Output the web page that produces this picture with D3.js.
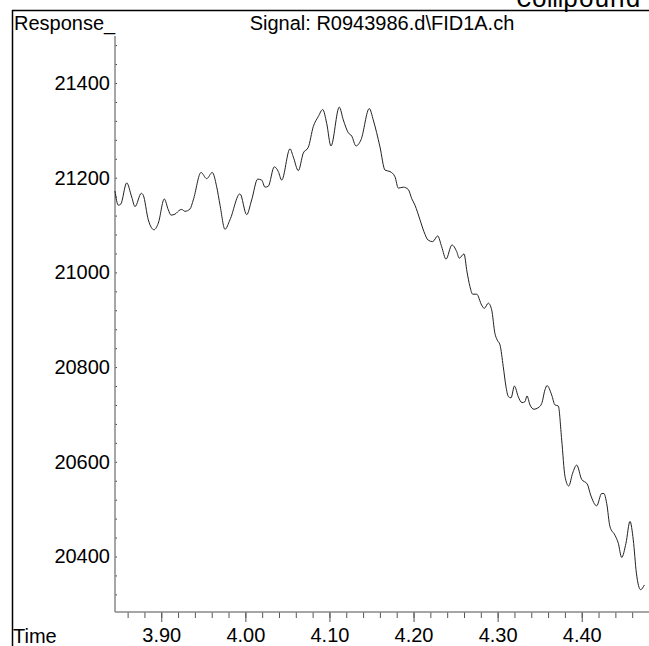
<!DOCTYPE html>
<html>
<head>
<meta charset="utf-8">
<script src="https://cdn.jsdelivr.net/npm/d3@7"></script>
<style>
  html, body { margin: 0; padding: 0; background: #fff; }
  svg { display: block; }
  text { font-family: "Liberation Sans", Arial, sans-serif; }
</style>
</head>
<body>
<svg id="chart" width="649" height="646"></svg>
<script>
// ---- data ----
const title = "Signal: R0943986.d\\FID1A.ch";
const yLabel = "Response_";
const xLabel = "Time";
const heading = "Compound";
const xTickValues = [3.90, 4.00, 4.10, 4.20, 4.30, 4.40];
const yTickValues = [20400, 20600, 20800, 21000, 21200, 21400];

const times = [
  3.8450, 3.8489, 3.8518, 3.8589, 3.8649, 3.8688, 3.8763, 3.8786, 3.8846, 3.8914,
  3.8965, 3.9036, 3.9084, 3.9116, 3.9163, 3.9223, 3.9243, 3.9282, 3.9342, 3.9381,
  3.9473, 3.9540, 3.9607, 3.9659, 3.9699, 3.9758, 3.9817, 3.9936, 4.0016, 4.0075,
  4.0147, 4.0194, 4.0234, 4.0273, 4.0344, 4.0392, 4.0432, 4.0531, 4.0570, 4.0630,
  4.0689, 4.0748, 4.0808, 4.0867, 4.0920, 4.0967, 4.1018, 4.1117, 4.1165, 4.1224,
  4.1265, 4.1316, 4.1375, 4.1474, 4.1521, 4.1601, 4.1661, 4.1720, 4.1779, 4.1819,
  4.1878, 4.1938, 4.1978, 4.2017, 4.2077, 4.2124, 4.2175, 4.2228, 4.2287, 4.2335,
  4.2386, 4.2457, 4.2513, 4.2544, 4.2600, 4.2636, 4.2671, 4.2703, 4.2751, 4.2810,
  4.2841, 4.2889, 4.2929, 4.2968, 4.2996, 4.3028, 4.3067, 4.3099, 4.3127, 4.3159,
  4.3200, 4.3246, 4.3290, 4.3325, 4.3349, 4.3385, 4.3432, 4.3480, 4.3524, 4.3563,
  4.3587, 4.3643, 4.3682, 4.3721, 4.3762, 4.3801, 4.3845, 4.3892, 4.3940, 4.3999,
  4.4066, 4.4106, 4.4178, 4.4237, 4.4264, 4.4297, 4.4336, 4.4395, 4.4435, 4.4475,
  4.4526, 4.4574, 4.4613, 4.4650, 4.4700, 4.4745
];
const responses = [
  21172, 21142, 21144, 21189, 21159, 21139, 21167, 21163, 21111, 21090,
  21104, 21155, 21132, 21121, 21123, 21132, 21133, 21129, 21134, 21153,
  21211, 21198, 21211, 21181, 21142, 21091, 21111, 21166, 21122, 21153,
  21197, 21195, 21180, 21182, 21223, 21213, 21195, 21261, 21244, 21215,
  21252, 21264, 21308, 21329, 21344, 21315, 21267, 21349, 21322, 21295,
  21288, 21267, 21280, 21346, 21322, 21265, 21216, 21213, 21202, 21178,
  21180, 21175, 21156, 21142, 21111, 21086, 21068, 21065, 21077, 21054,
  21028, 21058, 21044, 21030, 21039, 21001, 20970, 20954, 20954, 20931,
  20924, 20935, 20921, 20871, 20857, 20847, 20801, 20759, 20738, 20735,
  20760, 20737, 20725, 20727, 20739, 20720, 20711, 20714, 20723, 20752,
  20761, 20741, 20720, 20718, 20646, 20569, 20549, 20576, 20593, 20563,
  20553, 20530, 20507, 20533, 20533, 20512, 20463, 20445, 20428, 20398,
  20428, 20474, 20435, 20365, 20330, 20340
];

// ---- layout ----
const svg = d3.select("#chart");
const axisX = 115, axisBottom = 612, axisTop = 36, rightEdge = 649;

const x = d3.scaleLinear().domain([3.845, 4.48]).range([axisX, rightEdge]);
const y = d3.scaleLinear().domain([21400, 20400]).range([83, 556.5]);

// frame
svg.append("line").attr("x1", 12).attr("x2", 649).attr("y1", 10.5).attr("y2", 10.5)
  .attr("stroke", "#000").attr("stroke-width", 1.5);
svg.append("line").attr("x1", 12.5).attr("x2", 12.5).attr("y1", 10).attr("y2", 646)
  .attr("stroke", "#000").attr("stroke-width", 1.5);

// heading at top right, cut by the top edge as in the reference
svg.append("text").attr("x", 516).attr("y", 7)
  .style("font-family", "'Liberation Mono', 'Courier New', monospace")
  .style("font-size", "26px").attr("fill", "#000").text(heading);

// header texts
svg.append("text").attr("x", 14).attr("y", 30).style("font-size", "20px").text(yLabel);
svg.append("text").attr("x", 382).attr("y", 30).attr("text-anchor", "middle")
  .style("font-size", "20px").text(title);

// x axis
const xMinor = d3.range(3.86, 4.481, 0.02).filter(v => x(v) <= rightEdge);
const xAxis = d3.axisBottom(x).tickValues(xMinor).tickSize(6).tickFormat("");
const gx = svg.append("g").attr("transform", `translate(0,${axisBottom})`).call(xAxis);
gx.select(".domain").remove();
gx.selectAll(".tick line").attr("stroke", "#555").attr("stroke-width", 1);
const xMajor = d3.axisBottom(x).tickValues(xTickValues).tickSize(10)
  .tickFormat(d3.format(".2f")).tickPadding(6);
const gxm = svg.append("g").attr("transform", `translate(0,${axisBottom})`).call(xMajor);
gxm.select(".domain").remove();
gxm.selectAll(".tick line").attr("stroke", "#555").attr("stroke-width", 1);
gxm.selectAll(".tick text").style("font-size", "20px").attr("fill", "#000")
  .style("font-family", "'Liberation Sans', Arial, sans-serif");
svg.append("line").attr("x1", axisX).attr("x2", rightEdge)
  .attr("y1", axisBottom).attr("y2", axisBottom)
  .attr("stroke", "#888").attr("stroke-width", 1.5);
svg.append("text").attr("x", 13).attr("y", 643).style("font-size", "20px").text(xLabel);

// y axis
const yMinor = d3.range(20280, 21500, 40).filter(v => y(v) >= axisTop && y(v) <= axisBottom);
const yAxis = d3.axisRight(y).tickValues(yMinor).tickSize(2).tickFormat("");
const gy = svg.append("g").attr("transform", `translate(${axisX},0)`).call(yAxis);
gy.select(".domain").remove();
gy.selectAll(".tick line").attr("stroke", "#444").attr("stroke-width", 1);
svg.append("line").attr("x1", axisX).attr("x2", axisX)
  .attr("y1", axisTop).attr("y2", axisBottom)
  .attr("stroke", "#888").attr("stroke-width", 1.5);
const yLab = d3.axisLeft(y).tickValues(yTickValues).tickSize(0).tickPadding(5)
  .tickFormat(d3.format("d"));
const gyl = svg.append("g").attr("transform", `translate(${axisX},0)`).call(yLab);
gyl.select(".domain").remove();
gyl.selectAll(".tick text").style("font-size", "20px").attr("fill", "#000")
  .style("font-family", "'Liberation Sans', Arial, sans-serif");

// signal trace
const data = times.map((t, i) => ({ t, v: responses[i] }));
const line = d3.line().x(d => x(d.t)).y(d => y(d.v)).curve(d3.curveMonotoneX);
svg.append("path").datum(data).attr("d", line)
  .attr("fill", "none").attr("stroke", "#222").attr("stroke-width", 1);
</script>
</body>
</html>
